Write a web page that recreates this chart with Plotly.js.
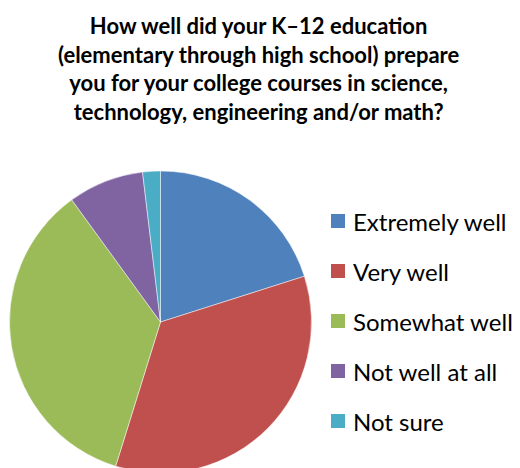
<!DOCTYPE html>
<html>
<head>
<meta charset="utf-8">
<script src="https://cdn.plot.ly/plotly-3.0.1.min.js"></script>
<style>
html,body{margin:0;padding:0;overflow:hidden;background:#fff;}
#chart{width:520px;height:480px;}
</style>
</head>
<body>
<div id="chart"></div>
<script>
var labels = ["Extremely well", "Very well", "Somewhat well", "Not well at all", "Not sure"];
var values = [20.1, 34.7, 35.2, 8.1, 1.9];
var colors = ["#4F81BD", "#C0504D", "#9BBB59", "#8064A2", "#4BACC6"];
var titleText = "How well did your K\u201312 education<br>(elementary through high school) prepare<br>you for your college courses in science,<br>technology, engineering and/or math?";

var H = 480;
function py(px){ return (H - px) / H; }

var trace = {
  type: "pie",
  labels: labels,
  values: values,
  sort: false,
  direction: "clockwise",
  rotation: 0,
  textinfo: "none",
  hoverinfo: "label+percent",
  marker: {colors: colors, line: {color: "rgba(255,255,255,0.6)", width: 0.8}},
  domain: {x: [9.5/520, 311.5/520], y: [py(473), py(171)]},
  showlegend: false
};

var annotations = [{
  text: "<b>" + titleText + "</b>",
  xref: "paper", yref: "paper", x: 258/520, y: py(10),
  xanchor: "center", yanchor: "top", showarrow: false, align: "center",
  font: {family: "Lato, 'Open Sans', sans-serif", size: 22, color: "#000"}
}];
var shapes = [];
var legTop = 221, legGap = 50;
for (var i = 0; i < labels.length; i++) {
  var cy = legTop + i * legGap;
  shapes.push({type: "rect", xref: "paper", yref: "paper",
    x0: 331/520, x1: 345/520, y0: py(cy + 7), y1: py(cy - 7),
    fillcolor: colors[i], line: {width: 0}});
  annotations.push({text: labels[i], xref: "paper", yref: "paper",
    x: 351/520, y: py(cy), xanchor: "left", yanchor: "middle", showarrow: false,
    font: {family: "Lato, sans-serif", size: 24, color: "#000"}});
}

var layout = {
  width: 520, height: H,
  margin: {l: 0, r: 0, t: 0, b: 0},
  paper_bgcolor: "#fff",
  showlegend: false,
  annotations: annotations,
  shapes: shapes
};
Plotly.newPlot("chart", [trace], layout, {displayModeBar: false, staticPlot: true});
</script>
</body>
</html>
